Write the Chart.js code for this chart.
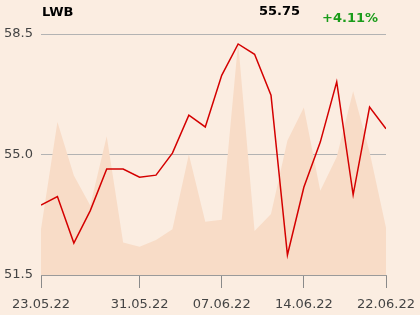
<!DOCTYPE html>
<html lang="de">
<head>
  <meta charset="UTF-8">
  <title>LWB</title>
  <script src="https://cdn.jsdelivr.net/npm/chart.js"></script>
  <style>
    body {
      margin: 0;
      background-color: #fbede1;
      font-family: "DejaVu Sans", sans-serif;
    }
    #wrap {
      position: relative;
      width: 420px;
      height: 315px;
    }
    .hdr {
      position: absolute;
      font-weight: bold;
      font-size: 13px;
      line-height: 13px;
      color: #000;
    }
  </style>
</head>
<body>
<div id="wrap">
  <div class="hdr" style="left:42px; top:5px;">LWB</div>
  <div class="hdr" style="left:259px; top:4px;">55.75</div>
  <div class="hdr" style="left:322px; top:11px; color:#1a9c1a;">+4.11%</div>
  <canvas id="chart" width="420" height="315"></canvas>
</div>

<script>
  const dates = ['23.05.22','24.05.22','25.05.22','26.05.22','27.05.22','30.05.22','31.05.22',
    '01.06.22','02.06.22','03.06.22','06.06.22','07.06.22','08.06.22','09.06.22','10.06.22',
    '13.06.22','14.06.22','15.06.22','17.06.22','20.06.22','21.06.22','22.06.22'];
  const prices = [53.53, 53.78, 52.43, 53.37, 54.58, 54.58, 54.34, 54.40, 55.04, 56.14, 55.80,
    57.30, 58.21, 57.91, 56.72, 52.08, 54.05, 55.36, 57.11, 53.83, 56.38, 55.75];
  const volume = [19.0, 63.5, 41.3, 28.8, 57.6, 13.5, 11.7, 14.5, 19.0, 50.0, 22.1,
    22.9, 96.5, 18.3, 25.3, 55.8, 69.5, 35.0, 49.0, 76.2, 51.0, 19.6];
  const xTicks = [0, 6, 11, 16, 21];
  const yTicks = [51.5, 55.0, 58.5];

  const idx = dates.map((d, i) => i);

  new Chart(document.getElementById('chart'), {
    type: 'line',
    data: {
      labels: idx,
      datasets: [{
        data: prices.map((v, i) => ({x: i, y: v})),
        borderColor: '#d40000',
        borderWidth: 1.5,
        pointRadius: 0,
        tension: 0,
        fill: false,
        yAxisID: 'y'
      }, {
        data: volume.map((v, i) => ({x: i, y: v})),
        borderWidth: 0,
        borderColor: 'rgba(0,0,0,0)',
        backgroundColor: '#f8dcc7',
        pointRadius: 0,
        tension: 0,
        fill: 'origin',
        yAxisID: 'vol'
      }]
    },
    options: {
      responsive: false,
      animation: false,
      layout: { padding: { top: 34, right: 34, left: 0, bottom: 0 } },
      plugins: {
        legend: { display: false },
        tooltip: { enabled: false }
      },
      scales: {
        x: {
          type: 'linear',
          min: 0,
          max: 21,
          afterBuildTicks: s => { s.ticks = xTicks.map(v => ({value: v})); },
          afterFit: s => { s.height = 40; s.paddingRight = 0; s.paddingLeft = 0; },
          ticks: {
            autoSkip: false,
            maxRotation: 0,
            padding: 9,
            color: '#444',
            font: { family: 'DejaVu Sans', size: 13 },
            callback: v => dates[v]
          },
          grid: {
            drawOnChartArea: false,
            drawTicks: true,
            tickLength: 13,
            color: '#8a8a8a'
          },
          border: { display: true, color: '#9a9a9a' }
        },
        y: {
          position: 'left',
          min: 51.5,
          max: 58.5,
          afterBuildTicks: s => { s.ticks = yTicks.map(v => ({value: v})); },
          afterFit: s => { s.width = 41; s.paddingTop = 0; s.paddingBottom = 0; },
          ticks: {
            padding: 8,
            color: '#444',
            font: { family: 'DejaVu Sans', size: 13 },
            callback: v => v.toFixed(1)
          },
          grid: { color: '#b3b3b3', drawTicks: false },
          border: { display: false }
        },
        vol: {
          display: false,
          min: 0,
          max: 100
        }
      }
    }
  });
</script>
</body>
</html>
